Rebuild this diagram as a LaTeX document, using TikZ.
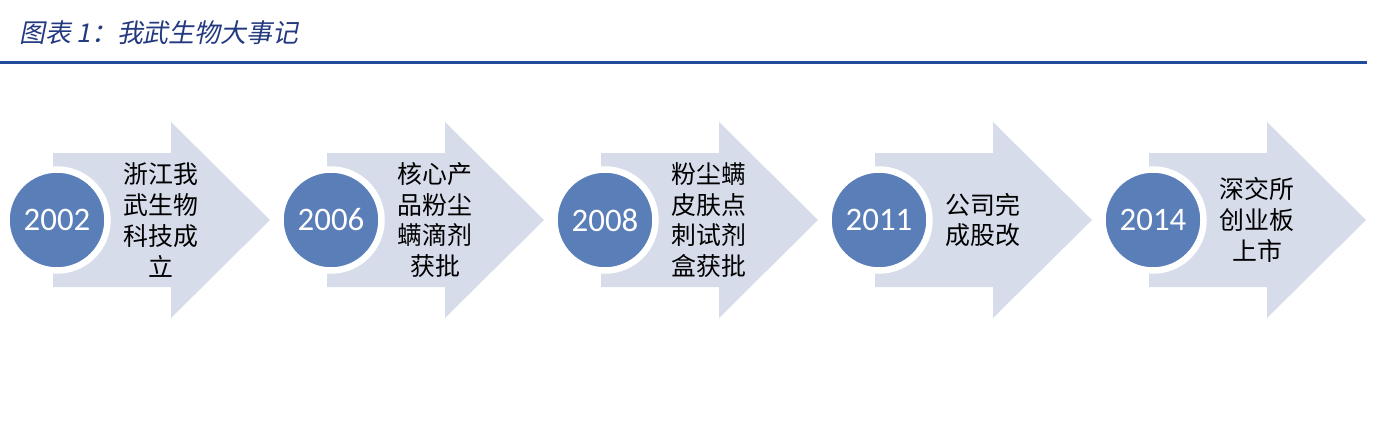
\documentclass[tikz,border=0pt]{standalone}
\usepackage{fontspec}
\setmainfont{Carlito}
\newfontfamily\cjk{Noto Sans CJK SC}
\newfontfamily\cjktitle[FakeSlant=0.2]{Noto Sans CJK SC}
\usetikzlibrary{positioning}
\definecolor{arrowfill}{RGB}{214,220,234}
\definecolor{yearblue}{RGB}{89,126,184}
\definecolor{titleblue}{RGB}{36,58,128}
\definecolor{ruleblue}{RGB}{33,76,155}
\tikzset{
event/.pic={
    \fill[arrowfill] (-4,-67) -- (114,-67) -- (114,-98) -- (213,0)
        -- (114,98) -- (114,67) -- (-4,67) -- cycle;
},
year/.style={
    circle,
    fill=yearblue,
    draw=white,
    line width=6.5bp,
    minimum size=101bp,
    inner sep=0pt,
    text=white,
    font=\fontsize{33}{33}\selectfont
},
desc/.style={
    align=center,
    inner sep=0pt,
    font=\cjk\fontsize{25}{31}\selectfont
},
heading/.style={
    anchor=west,
    inner sep=0pt,
    text=titleblue,
    font=\cjktitle\fontsize{26}{26}\selectfont
}}

\begin{document}
\begin{tikzpicture}[x=1bp, y=-1bp]
\useasboundingbox (0,0) rectangle (1378,426);

\node[heading]    (title)    at (19,33)    {图表 1：我武生物大事记};
\draw[ruleblue, line width=3bp]    (0,62) -- (1367,62);

\pic at (57,220)      {event};
\pic at (331,220)     {event};
\pic at (605,220)     {event};
\pic at (879,220)     {event};
\pic at (1153,220)    {event};

\node[year]    (y2002)    at (57,220)      {2002};
\node[year]    (y2006)    at (331,220)     {2006};
\node[year]    (y2008)    at (605,220)     {2008};
\node[year]    (y2011)    at (879,220)     {2011};
\node[year]    (y2014)    at (1153,220)    {2014};

\node[desc]    (d2002)    [right=13bp of y2002]    {浙江我\\武生物\\科技成\\立};
\node[desc]    (d2006)    [right=13bp of y2006]    {核心产\\品粉尘\\螨滴剂\\获批};
\node[desc]    (d2008)    [right=13bp of y2008]    {粉尘螨\\皮肤点\\刺试剂\\盒获批};
\node[desc]    (d2011)    [right=13bp of y2011]    {公司完\\成股改};
\node[desc]    (d2014)    [right=13bp of y2014]    {深交所\\创业板\\上市};
\end{tikzpicture}
\end{document}
